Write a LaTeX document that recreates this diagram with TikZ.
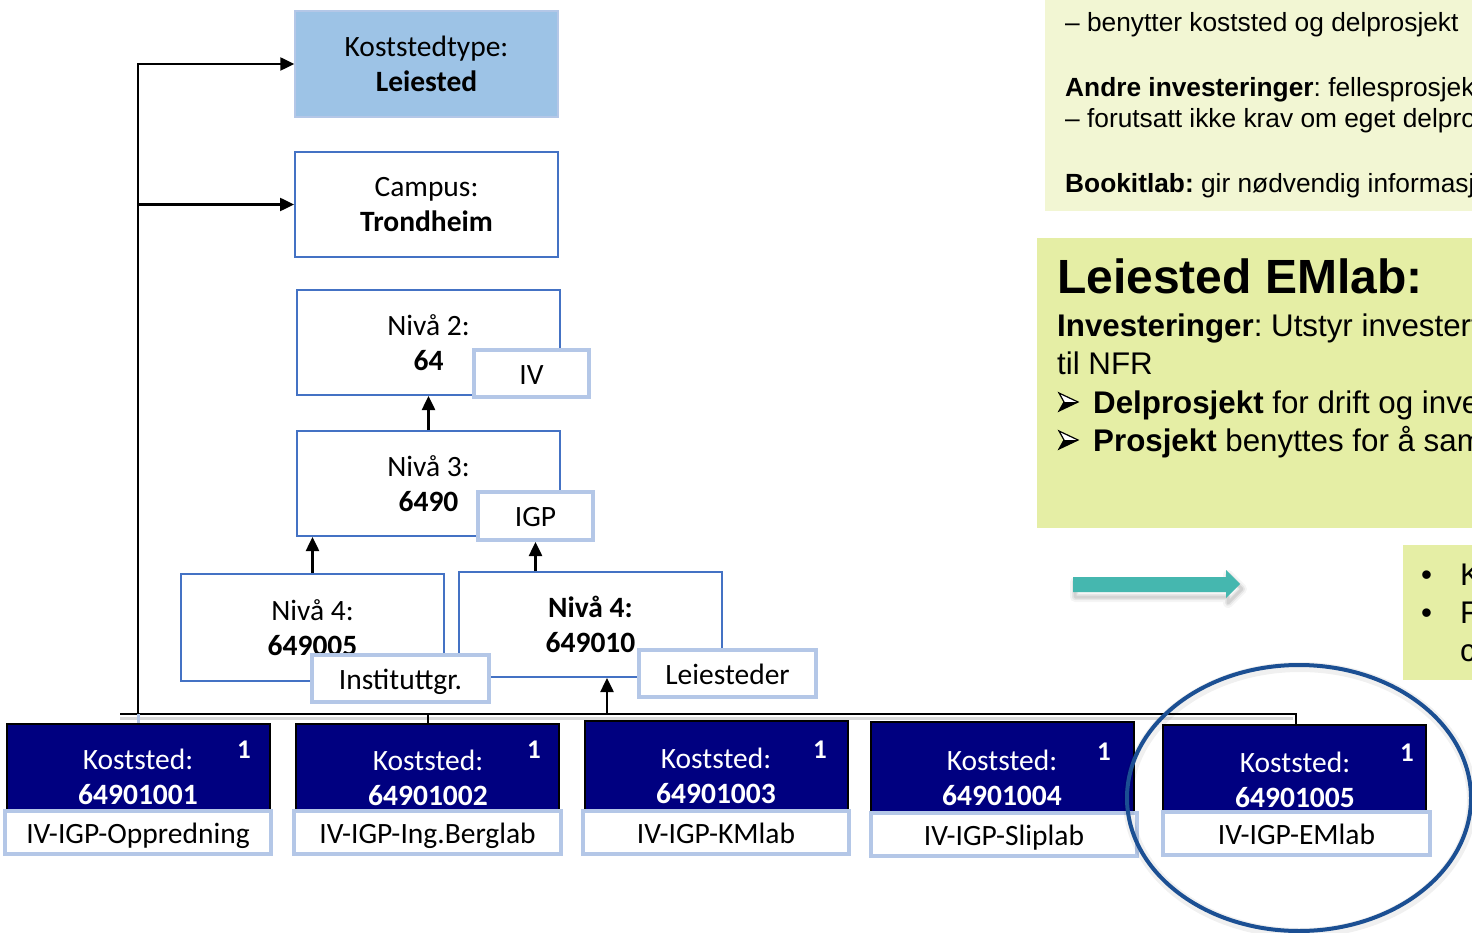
\documentclass[tikz,border=0pt]{standalone}
\usepackage{fontspec}
\setmainfont{Carlito}
\newfontfamily\arialfont{Liberation Sans}
\usetikzlibrary{arrows.meta}
\definecolor{boxblue}{HTML}{4472C4}
\definecolor{tagblue}{HTML}{B4C7E7}
\definecolor{ktblue}{HTML}{9DC3E6}
\definecolor{navy}{HTML}{000080}
\definecolor{paleyg}{HTML}{F2F6D3}
\definecolor{yg}{HTML}{E5EEA5}
\definecolor{tealarrow}{HTML}{45B7AF}
\definecolor{circblue}{HTML}{1B4F93}
\frenchspacing
\tikzset{
  lvlbox/.style={draw=boxblue, line width=2pt, fill=white, minimum width=263pt, minimum height=105pt, inner sep=0pt, align=center, font=\fontsize{29.5}{35.5}\selectfont},
  tagbox/.style={draw=tagblue, line width=4pt, fill=white, inner sep=0pt, text height=24pt, text depth=3pt, font=\fontsize{29.5}{34}\selectfont},
  kostbox/.style={draw=black, line width=2.5pt, fill=navy, minimum width=263pt, minimum height=88pt, inner sep=0pt},
  kosttext/.style={text=white, align=center, inner sep=0pt, font=\fontsize{29.5}{35}\selectfont},
  onelabel/.style={text=white, inner sep=0pt, font=\fontsize{27}{30}\selectfont\bfseries},
  conn/.style={line width=2.5pt, -{Triangle[length=14pt,width=13pt]}},
  rtext/.style={anchor=base west, inner sep=0pt, font=\arialfont\fontsize{26.3}{30}\selectfont},
  rtextb/.style={anchor=base west, inner sep=0pt, font=\arialfont\fontsize{31.3}{36}\selectfont},
  bulletarrow/.style={draw=black, line width=1.2pt, fill=white, line join=miter},
}
\begin{document}
\begin{tikzpicture}[x=1pt,y=-1pt]
\useasboundingbox (0,0) rectangle (1472,933);
\clip (0,0) rectangle (1472,933);
\fill[white] (0,0) rectangle (1472,933);

% right-hand text panels
\fill[paleyg] (1045,0) rectangle (1472,211);
\node[rtext] (t1) at (1065,32) {– benytter koststed og delprosjekt};
\node[rtext] (t2) at (1065,97) {\textbf{Andre investeringer}: fellesprosjekt};
\node[rtext] (t3) at (1065,128) {– forutsatt ikke krav om eget delprosjekt};
\node[rtext] (t4) at (1065,193) {\textbf{Bookitlab:} gir nødvendig informasjon};

\fill[yg] (1037,238) rectangle (1472,528);
\node[anchor=base west, inner sep=0pt, font=\arialfont\fontsize{48}{54}\selectfont\bfseries] (head) at (1057,294) {Leiested EMlab:};
\node[rtextb] (s1) at (1057,336) {\textbf{Investeringer}: Utstyr investert};
\node[rtextb] (s2) at (1057,374) {til NFR};
\foreach \yy/\nm in {402/ba1,440/ba2}{
  \coordinate (\nm) at (1068,\yy);
  \draw[bulletarrow] ([shift={(-9,-9)}]\nm) -- ([shift={(10,0)}]\nm) -- ([shift={(-9,9)}]\nm) -- ([shift={(-4,0)}]\nm) -- cycle;
  \fill[black] ([shift={(-4,0)}]\nm) -- ([shift={(10,0)}]\nm) -- ([shift={(-9,9)}]\nm) -- cycle;
}
\node[rtextb] (s3) at (1093,413) {\textbf{Delprosjekt} for drift og investering};
\node[rtextb] (s4) at (1093,451) {\textbf{Prosjekt} benyttes for å samle};

\fill[yg] (1403,545) rectangle (1472,680);
\node[rtextb] (u1) at (1421,585) {•};
\node[rtextb] (u2) at (1421,623) {•};
\node[rtextb] (v1) at (1460,585) {K};
\node[rtextb] (v2) at (1460,623) {F};
\node[rtextb] (v3) at (1460,661) {c};

% teal arrow with soft shadow
\foreach \o/\w in {0.04/10,0.06/6,0.08/3}
  \draw[black, opacity=\o, line width=\w pt, line join=round]
    (1075,582) -- (1228,582) -- (1228,575) -- (1242,589) -- (1228,603) -- (1228,597) -- (1075,597) -- cycle;
\fill[tealarrow] (1073,577) -- (1226,577) -- (1226,570) -- (1240,584) -- (1226,598) -- (1226,592) -- (1073,592) -- cycle;

% hierarchy boxes
\node[lvlbox, fill=ktblue, draw=tagblue, line width=1.5pt, minimum height=106pt] (kt) at (426.5,64) {Koststedtype:\\\textbf{Leiested}};
\node[lvlbox] (campus) at (426.5,204.5) {Campus:\\\textbf{Trondheim}};
\node[lvlbox] (n2) at (428.5,342.5) {Nivå 2:\\\textbf{64}};
\node[tagbox, minimum width=115pt, minimum height=47pt] (iv) at (531.5,373.5) {IV};
\node[lvlbox] (n3) at (428.5,483.5) {Nivå 3:\\\textbf{6490}};
\node[tagbox, minimum width=115pt, minimum height=48pt] (igp) at (535.5,516) {IGP};
\node[lvlbox, minimum height=107pt] (n4a) at (312.5,627.5) {Nivå 4:\\\textbf{649005}};
\node[lvlbox] (n4b) at (590.5,624.5) {\textbf{Nivå 4:}\\\textbf{649010}};
\node[tagbox, minimum width=177pt, minimum height=47pt] (inst) at (400.5,678.5) {Instituttgr.};
\node[tagbox, minimum width=177pt, minimum height=47pt] (leie) at (727.5,673.5) {Leiesteder};

% bottom cost-centre boxes
\node[kostbox] (k1) at (138.5,768) {};
\node[kostbox] (k2) at (427.5,768) {};
\node[kostbox, minimum height=90pt] (k3) at (716.5,766) {};
\node[kostbox, minimum height=90pt] (k4) at (1002.5,767) {};
\node[kostbox] (k5) at (1294.5,769) {};
\node[kosttext] (k1t) at (138,777) {Koststed:\\\textbf{64901001}};
\node[kosttext] (k2t) at (428,778) {Koststed:\\\textbf{64901002}};
\node[kosttext] (k3t) at (716,776) {Koststed:\\\textbf{64901003}};
\node[kosttext] (k4t) at (1002,778) {Koststed:\\\textbf{64901004}};
\node[kosttext] (k5t) at (1295,780) {Koststed:\\\textbf{64901005}};
\node[onelabel] (k1n) at (244,750) {1};
\node[onelabel] (k2n) at (534,750) {1};
\node[onelabel] (k3n) at (820,750) {1};
\node[onelabel] (k4n) at (1104,752) {1};
\node[onelabel] (k5n) at (1407,753) {1};
\node[tagbox, minimum width=266pt, minimum height=43pt] (l1) at (138,832.5) {IV-IGP-Oppredning};
\node[tagbox, minimum width=267pt, minimum height=43pt] (l2) at (427.5,832.5) {IV-IGP-Ing.Berglab};
\node[tagbox, minimum width=266pt, minimum height=43pt] (l3) at (716,832.5) {IV-IGP-KMlab};
\node[tagbox, minimum width=266pt, minimum height=43pt] (l4) at (1004,834.5) {IV-IGP-Sliplab};
\node[tagbox, minimum width=267pt, minimum height=43pt] (l5) at (1296.5,833.5) {IV-IGP-EMlab};

% connectors
\coordinate (busL) at (120,714);
\coordinate (busR) at (1296,714);
\coordinate (vl) at (138,714);
\coordinate (busup) at (607,714);
\coordinate (b2) at (428,714);
\draw[black!15, line width=3pt] (120,718.5) -- (1293,718.5);
\draw[line width=2pt] (busL) -- (busR) -- (busR |- k5.north);
\draw[tagblue, line width=3pt] (vl) -- (vl |- k1.north);
\draw[line width=2.5pt] (b2) -- (b2 |- k2.north);
\draw[conn] (vl) |- (kt.west);
\draw[conn] (vl |- campus.west) -- (campus.west);
\draw[conn] (n3.north) -- (n2.south);
\draw[conn] (n4a.north) -- (n4a.north |- n3.south);
\draw[conn] (igp.south |- n4b.north) -- (igp.south);
\draw[conn] (busup) -- (busup |- n4b.south);

% highlight circle
\draw[black, opacity=0.06, line width=10pt] (1300,800) ellipse [x radius=172pt, y radius=133pt];
\draw[circblue, line width=4pt] (1299,798) ellipse [x radius=172pt, y radius=133pt];
\end{tikzpicture}
\end{document}
